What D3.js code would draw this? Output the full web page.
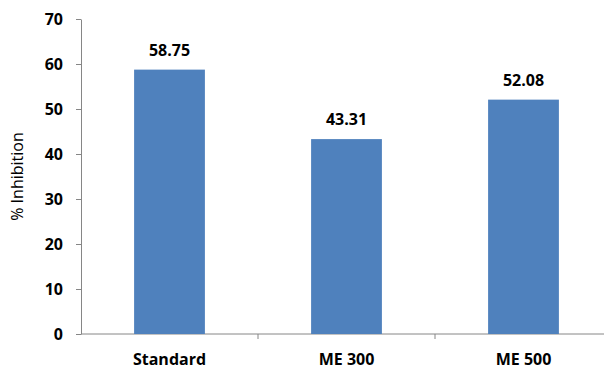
<!DOCTYPE html>
<html>
<head>
<meta charset="utf-8">
<script src="https://cdn.jsdelivr.net/npm/d3@7"></script>
<style>
  body { margin: 0; background: #fff; }
  svg { display: block; }
</style>
</head>
<body>
<div id="chart"></div>
<script>
    "use strict";
    // chart data
    var categories = ["Standard", "ME 300", "ME 500"];
    var inhibition = [58.75, 43.31, 52.08];
    var valueLabels = ["58.75", "43.31", "52.08"];
    var yTicks = [0, 10, 20, 30, 40, 50, 60, 70];

    var width = 604, height = 368;
    var plotLeft = 81, plotRight = 612, plotTop = 19, plotBottom = 334;
    var fontFamily = "'Open Sans', 'Liberation Sans', sans-serif";

    var svg = d3.select("#chart")
        .append("svg")
        .attr("width", width)
        .attr("height", height);

    var x = d3.scaleBand()
        .domain(categories)
        .range([plotLeft, plotRight])
        .paddingInner(0.6)
        .paddingOuter(0.3);

    var y = d3.scaleLinear()
        .domain([0, 70])
        .range([plotBottom, plotTop]);

    // y axis
    var yAxis = svg.append("g")
        .attr("transform", "translate(" + plotLeft + ",0)")
        .call(d3.axisLeft(y).tickValues(yTicks).tickSize(5).tickSizeOuter(0).tickPadding(13));
    yAxis.select(".domain").attr("stroke", "#868686");
    yAxis.selectAll(".tick line").attr("stroke", "#868686");
    yAxis.selectAll(".tick text")
        .attr("font-family", fontFamily)
        .attr("font-weight", "bold")
        .attr("font-size", "16px")
        .attr("fill", "#000");

    // x axis, ticks between categories
    var xAxis = svg.append("g")
        .attr("transform", "translate(0," + plotBottom + ")");
    xAxis.append("line")
        .attr("x1", plotLeft)
        .attr("x2", plotRight)
        .attr("stroke", "#868686");
    var step = x.step();
    xAxis.selectAll("line.sep")
        .data(categories.slice(1))
        .enter()
        .append("line")
        .attr("class", "sep")
        .attr("x1", function (d) { return x(d) + x.bandwidth() / 2 - step / 2; })
        .attr("x2", function (d) { return x(d) + x.bandwidth() / 2 - step / 2; })
        .attr("y1", 0)
        .attr("y2", 5)
        .attr("stroke", "#868686");
    xAxis.selectAll("text")
        .data(categories)
        .enter()
        .append("text")
        .attr("x", function (d) { return x(d) + x.bandwidth() / 2; })
        .attr("y", 31)
        .attr("text-anchor", "middle")
        .attr("font-family", fontFamily)
        .attr("font-weight", "bold")
        .attr("font-size", "16px")
        .text(function (d) { return d; });

    // bars
    svg.selectAll("rect.bar")
        .data(inhibition)
        .enter()
        .append("rect")
        .attr("class", "bar")
        .attr("x", function (d, i) { return x(categories[i]); })
        .attr("y", function (d) { return y(d); })
        .attr("width", x.bandwidth())
        .attr("height", function (d) { return plotBottom - y(d); })
        .attr("fill", "#4F81BD");

    // value labels
    svg.selectAll("text.value")
        .data(inhibition)
        .enter()
        .append("text")
        .attr("class", "value")
        .attr("x", function (d, i) { return x(categories[i]) + x.bandwidth() / 2; })
        .attr("y", function (d) { return y(d) - 14; })
        .attr("text-anchor", "middle")
        .attr("font-family", fontFamily)
        .attr("font-weight", "bold")
        .attr("font-size", "16px")
        .text(function (d, i) { return valueLabels[i]; });

    // y axis title
    svg.append("text")
        .attr("transform", "translate(23," + ((plotTop + plotBottom) / 2) + ") rotate(-90)")
        .attr("text-anchor", "middle")
        .attr("font-family", fontFamily)
        .attr("font-size", "16px")
        .attr("fill", "#000")
        .text("% Inhibition");
</script>
</body>
</html>
